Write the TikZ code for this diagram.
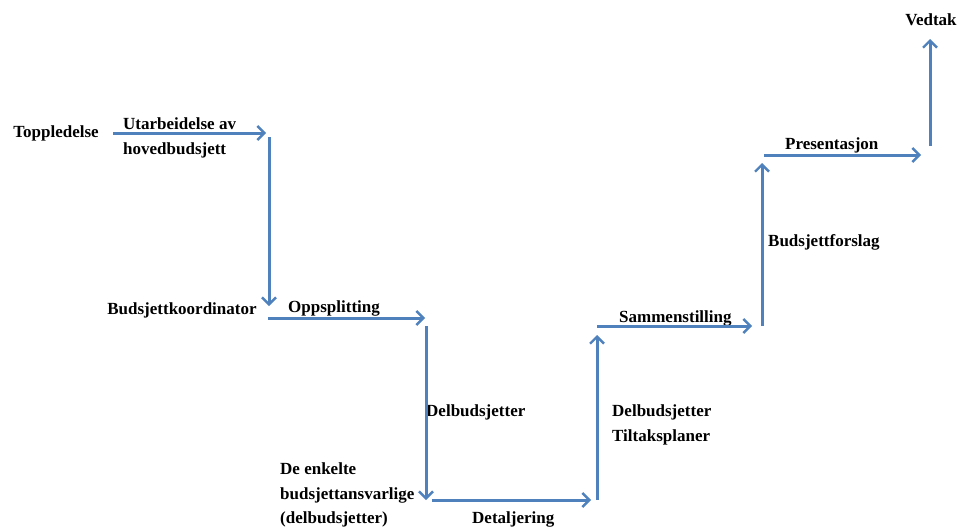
\documentclass[tikz,border=0pt]{standalone}
\usepackage{fontspec}
\setmainfont{Liberation Serif}
\usetikzlibrary{arrows.meta}
\definecolor{flow}{HTML}{4F81BD}
\tikzset{
  lbl/.style={font=\fontsize{17}{24.5}\selectfont\bfseries, inner sep=0pt, text=black},
  flowarrow/.style={draw=flow, line width=3pt, -{Straight Barb[length=7pt,width=14pt,line width=2.4pt]}},
}
\begin{document}
\begin{tikzpicture}[x=1pt,y=-1pt]
\useasboundingbox (0,0) rectangle (959,530);
% coordinates
\coordinate (a1s) at (113,133); \coordinate (a1e) at (266,133);
\coordinate (v1s) at (269,137); \coordinate (v1e) at (269,306);
\coordinate (a2s) at (268,318); \coordinate (a2e) at (425,318);
\coordinate (v2s) at (426,326); \coordinate (v2e) at (426,500);
\coordinate (a3s) at (432,500); \coordinate (a3e) at (591,500);
\coordinate (v3s) at (597,500); \coordinate (v3e) at (597,335);
\coordinate (a4s) at (597,326); \coordinate (a4e) at (752,326);
\coordinate (v4s) at (762,326); \coordinate (v4e) at (762,163);
\coordinate (a5s) at (764,155); \coordinate (a5e) at (921,155);
\coordinate (v5s) at (930,146); \coordinate (v5e) at (930,39);
% labels
\node[lbl] (top) at (56,133) {Toppledelse};
\node[lbl, anchor=west] (utarb) at (123,124) {Utarbeidelse av};
\node[lbl, anchor=west] (hoved) at (123,150) {hovedbudsjett};
\node[lbl] (koord) at (182,310) {Budsjettkoordinator};
\node[lbl, anchor=west] (opps) at (288,308) {Oppsplitting};
\node[lbl, anchor=west] (delb1) at (426,412) {Delbudsjetter};
\node[lbl, anchor=west, align=left] (enkelte) at (280,495) {De enkelte\\budsjettansvarlige\\(delbudsjetter)};
\node[lbl, anchor=west] (detal) at (472,519) {Detaljering};
\node[lbl, anchor=west, align=left] (delb2) at (612,425) {Delbudsjetter\\Tiltaksplaner};
\node[lbl, anchor=west] (samm) at (619,318) {Sammenstilling};
\node[lbl, anchor=west] (forsl) at (768,242) {Budsjettforslag};
\node[lbl, anchor=west] (pres) at (785,145) {Presentasjon};
\node[lbl] (vedtak) at (931,20) {Vedtak};
% arrows
\draw[flowarrow] (a1s) -- (a1e);
\draw[flowarrow] (v1s) -- (v1e);
\draw[flowarrow] (a2s) -- (a2e);
\draw[flowarrow] (v2s) -- (v2e);
\draw[flowarrow] (a3s) -- (a3e);
\draw[flowarrow] (v3s) -- (v3e);
\draw[flowarrow] (a4s) -- (a4e);
\draw[flowarrow] (v4s) -- (v4e);
\draw[flowarrow] (a5s) -- (a5e);
\draw[flowarrow] (v5s) -- (v5e);
\end{tikzpicture}
\end{document}
